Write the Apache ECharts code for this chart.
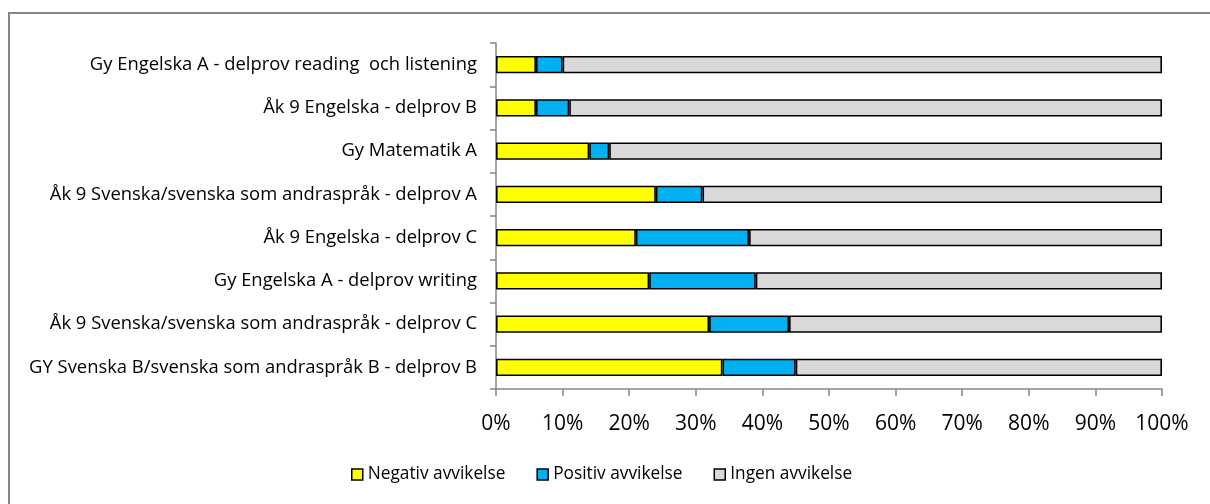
<!DOCTYPE html>
<html>
<head>
<meta charset="utf-8">
<script src="https://cdn.jsdelivr.net/npm/echarts@6/dist/echarts.min.js"></script>
<style>
html,body{margin:0;padding:0;background:#fff;}
#chart{width:1210px;height:504px;}
</style>
</head>
<body>
<div id="chart"></div>
<script>
const categories = [
  "Gy Engelska A - delprov reading  och listening",
  "Åk 9 Engelska - delprov B",
  "Gy Matematik A",
  "Åk 9 Svenska/svenska som andraspråk - delprov A",
  "Åk 9 Engelska - delprov C",
  "Gy Engelska A - delprov writing",
  "Åk 9 Svenska/svenska som andraspråk - delprov C",
  "GY Svenska B/svenska som andraspråk B - delprov B"
];
const negativ = [6, 6, 14, 24, 21, 23, 32, 34];
const positiv = [4, 5, 3, 7, 17, 16, 12, 11];
const ingen = [90, 89, 83, 69, 62, 61, 56, 55];
const seriesNames = ["Negativ avvikelse", "Positiv avvikelse", "Ingen avvikelse"];

const font = "'Open Sans', sans-serif";
const chart = echarts.init(document.getElementById('chart'), null, {renderer: 'canvas'});
function bar(name, data, color) {
  return {
    name: name, type: 'bar', stack: 'total', data: data,
    barCategoryGap: '60%',
    itemStyle: {color: color, borderColor: '#000', borderWidth: 1.6},
    emphasis: {disabled: true}
  };
}
chart.setOption({
  animation: false,
  backgroundColor: '#fff',
  graphic: [{
    type: 'rect', shape: {x: 9, y: 13, width: 1400, height: 700},
    style: {fill: 'none', stroke: '#868686', lineWidth: 2}, silent: true
  }],
  grid: {left: 496, right: 48, top: 43, bottom: 115, containLabel: false},
  legend: {
    data: seriesNames, top: 466, left: 351, padding: 0,
    itemWidth: 11, itemHeight: 11, itemGap: 31,
    textStyle: {fontFamily: font, fontSize: 17.3, color: '#000'},
    icon: 'rect',
    itemStyle: {borderColor: '#000', borderWidth: 1.5}
  },
  xAxis: {
    type: 'value', min: 0, max: 100, interval: 10,
    axisLine: {show: true, lineStyle: {color: '#868686', width: 1.5}},
    axisTick: {show: true, length: 7, lineStyle: {color: '#868686', width: 1.5}},
    splitLine: {show: false},
    axisLabel: {formatter: '{value}%', fontFamily: font, fontSize: 21, color: '#000', margin: 25}
  },
  yAxis: {
    type: 'category', data: categories, inverse: true,
    axisLine: {show: true, lineStyle: {color: '#868686', width: 1.5}},
    axisTick: {show: true, length: 6, lineStyle: {color: '#868686', width: 1.5}},
    axisLabel: {fontFamily: font, fontSize: 18.4, color: '#000', margin: 19}
  },
  series: [
    bar(seriesNames[0], negativ, '#FFFF00'),
    bar(seriesNames[1], positiv, '#00B0F0'),
    bar(seriesNames[2], ingen, '#D9D9D9')
  ]
});
</script>
</body>
</html>
